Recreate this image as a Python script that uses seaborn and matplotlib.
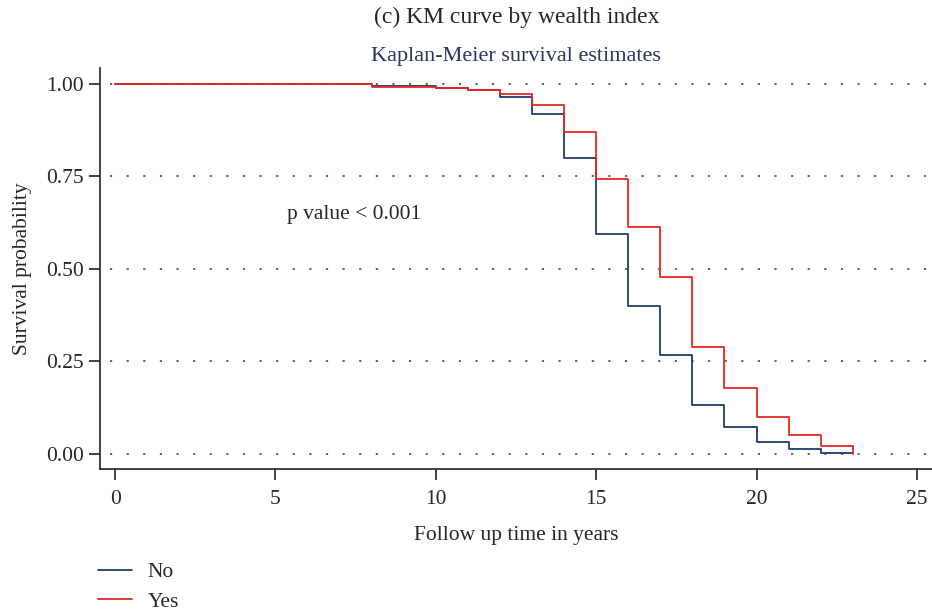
import pandas as pd
import matplotlib.pyplot as plt
import seaborn as sns
from matplotlib.lines import Line2D

# --- style ---
sns.set_theme(style="ticks")
plt.rcParams['font.family'] = ['Liberation Serif', 'DejaVu Serif']

# KM estimates
times = [0, 8, 10, 11, 12, 13, 14, 15, 16, 17, 18, 19, 20, 21, 22, 23]
surv_no = [1.0, 0.994, 0.989, 0.984, 0.966, 0.919, 0.800, 0.595, 0.401,
           0.267, 0.132, 0.072, 0.031, 0.0135, 0.0035, 0.0035]
surv_yes = [1.0, 0.991, 0.989, 0.984, 0.973, 0.942, 0.870, 0.743, 0.612,
            0.478, 0.289, 0.178, 0.099, 0.052, 0.0216, 0.0]
groups = ['No', 'Yes']
colors = {'No': '#1f3b6e', 'Yes': '#e8261f'}

y_ticks = [0.0, 0.25, 0.5, 0.75, 1.0]
x_ticks = [0, 5, 10, 15, 20, 25]

df = pd.concat([
    pd.DataFrame({'time': times, 'surv': surv_no, 'group': 'No'}),
    pd.DataFrame({'time': times, 'surv': surv_yes, 'group': 'Yes'}),
])

fig = plt.figure(figsize=(9.32, 6.10), dpi=100)
ax = fig.add_axes([0.1073, 0.2311, 0.8927, 0.6574])

# dotted horizontal grid
for yv in y_ticks:
    ax.axhline(yv, xmin=0.012, color='#555555', lw=1.3, ls=(0, (1.2, 8)), zorder=0)

sns.lineplot(data=df, x='time', y='surv', hue='group', palette=colors,
             drawstyle='steps-post', estimator=None, lw=1.3, legend=False, ax=ax)

ax.set_xlim(-0.47, 25.47)
ax.set_ylim(-0.041, 1.043)
ax.set_xticks(x_ticks)
ax.set_yticks(y_ticks)
ax.set_yticklabels([f'{v:.2f}' for v in y_ticks])
ax.tick_params(axis='both', labelsize=15.5, length=8, width=1.2, color='#222222')
ax.tick_params(axis='x', pad=7)
for s in ['top', 'right']:
    ax.spines[s].set_visible(False)
for s in ['left', 'bottom']:
    ax.spines[s].set_color('#222222')
    ax.spines[s].set_linewidth(1.2)

ax.set_xlabel('Follow up time in years', fontsize=15.5, labelpad=12)
ax.set_ylabel('Survival probability', fontsize=15.5, labelpad=10)

ax.text(5.35, 0.635, 'p value < 0.001', fontsize=15.5)

fig.text(0.554, 0.972, '(c) KM curve by wealth index', ha='center', va='center', fontsize=17)
ax.set_title('Kaplan-Meier survival estimates', fontsize=16, color='#2a3560', pad=5)

# legend below the plot
handles = [Line2D([], [], color=colors[g], lw=1.3) for g in groups]
fig.legend(handles, groups, loc='upper left', bbox_to_anchor=(0.105, 0.078),
           frameon=False, fontsize=15.5, handlelength=1.6, handletextpad=0.7,
           labelspacing=0.42, borderaxespad=0, borderpad=0)

plt.savefig('out.png', dpi=100)
